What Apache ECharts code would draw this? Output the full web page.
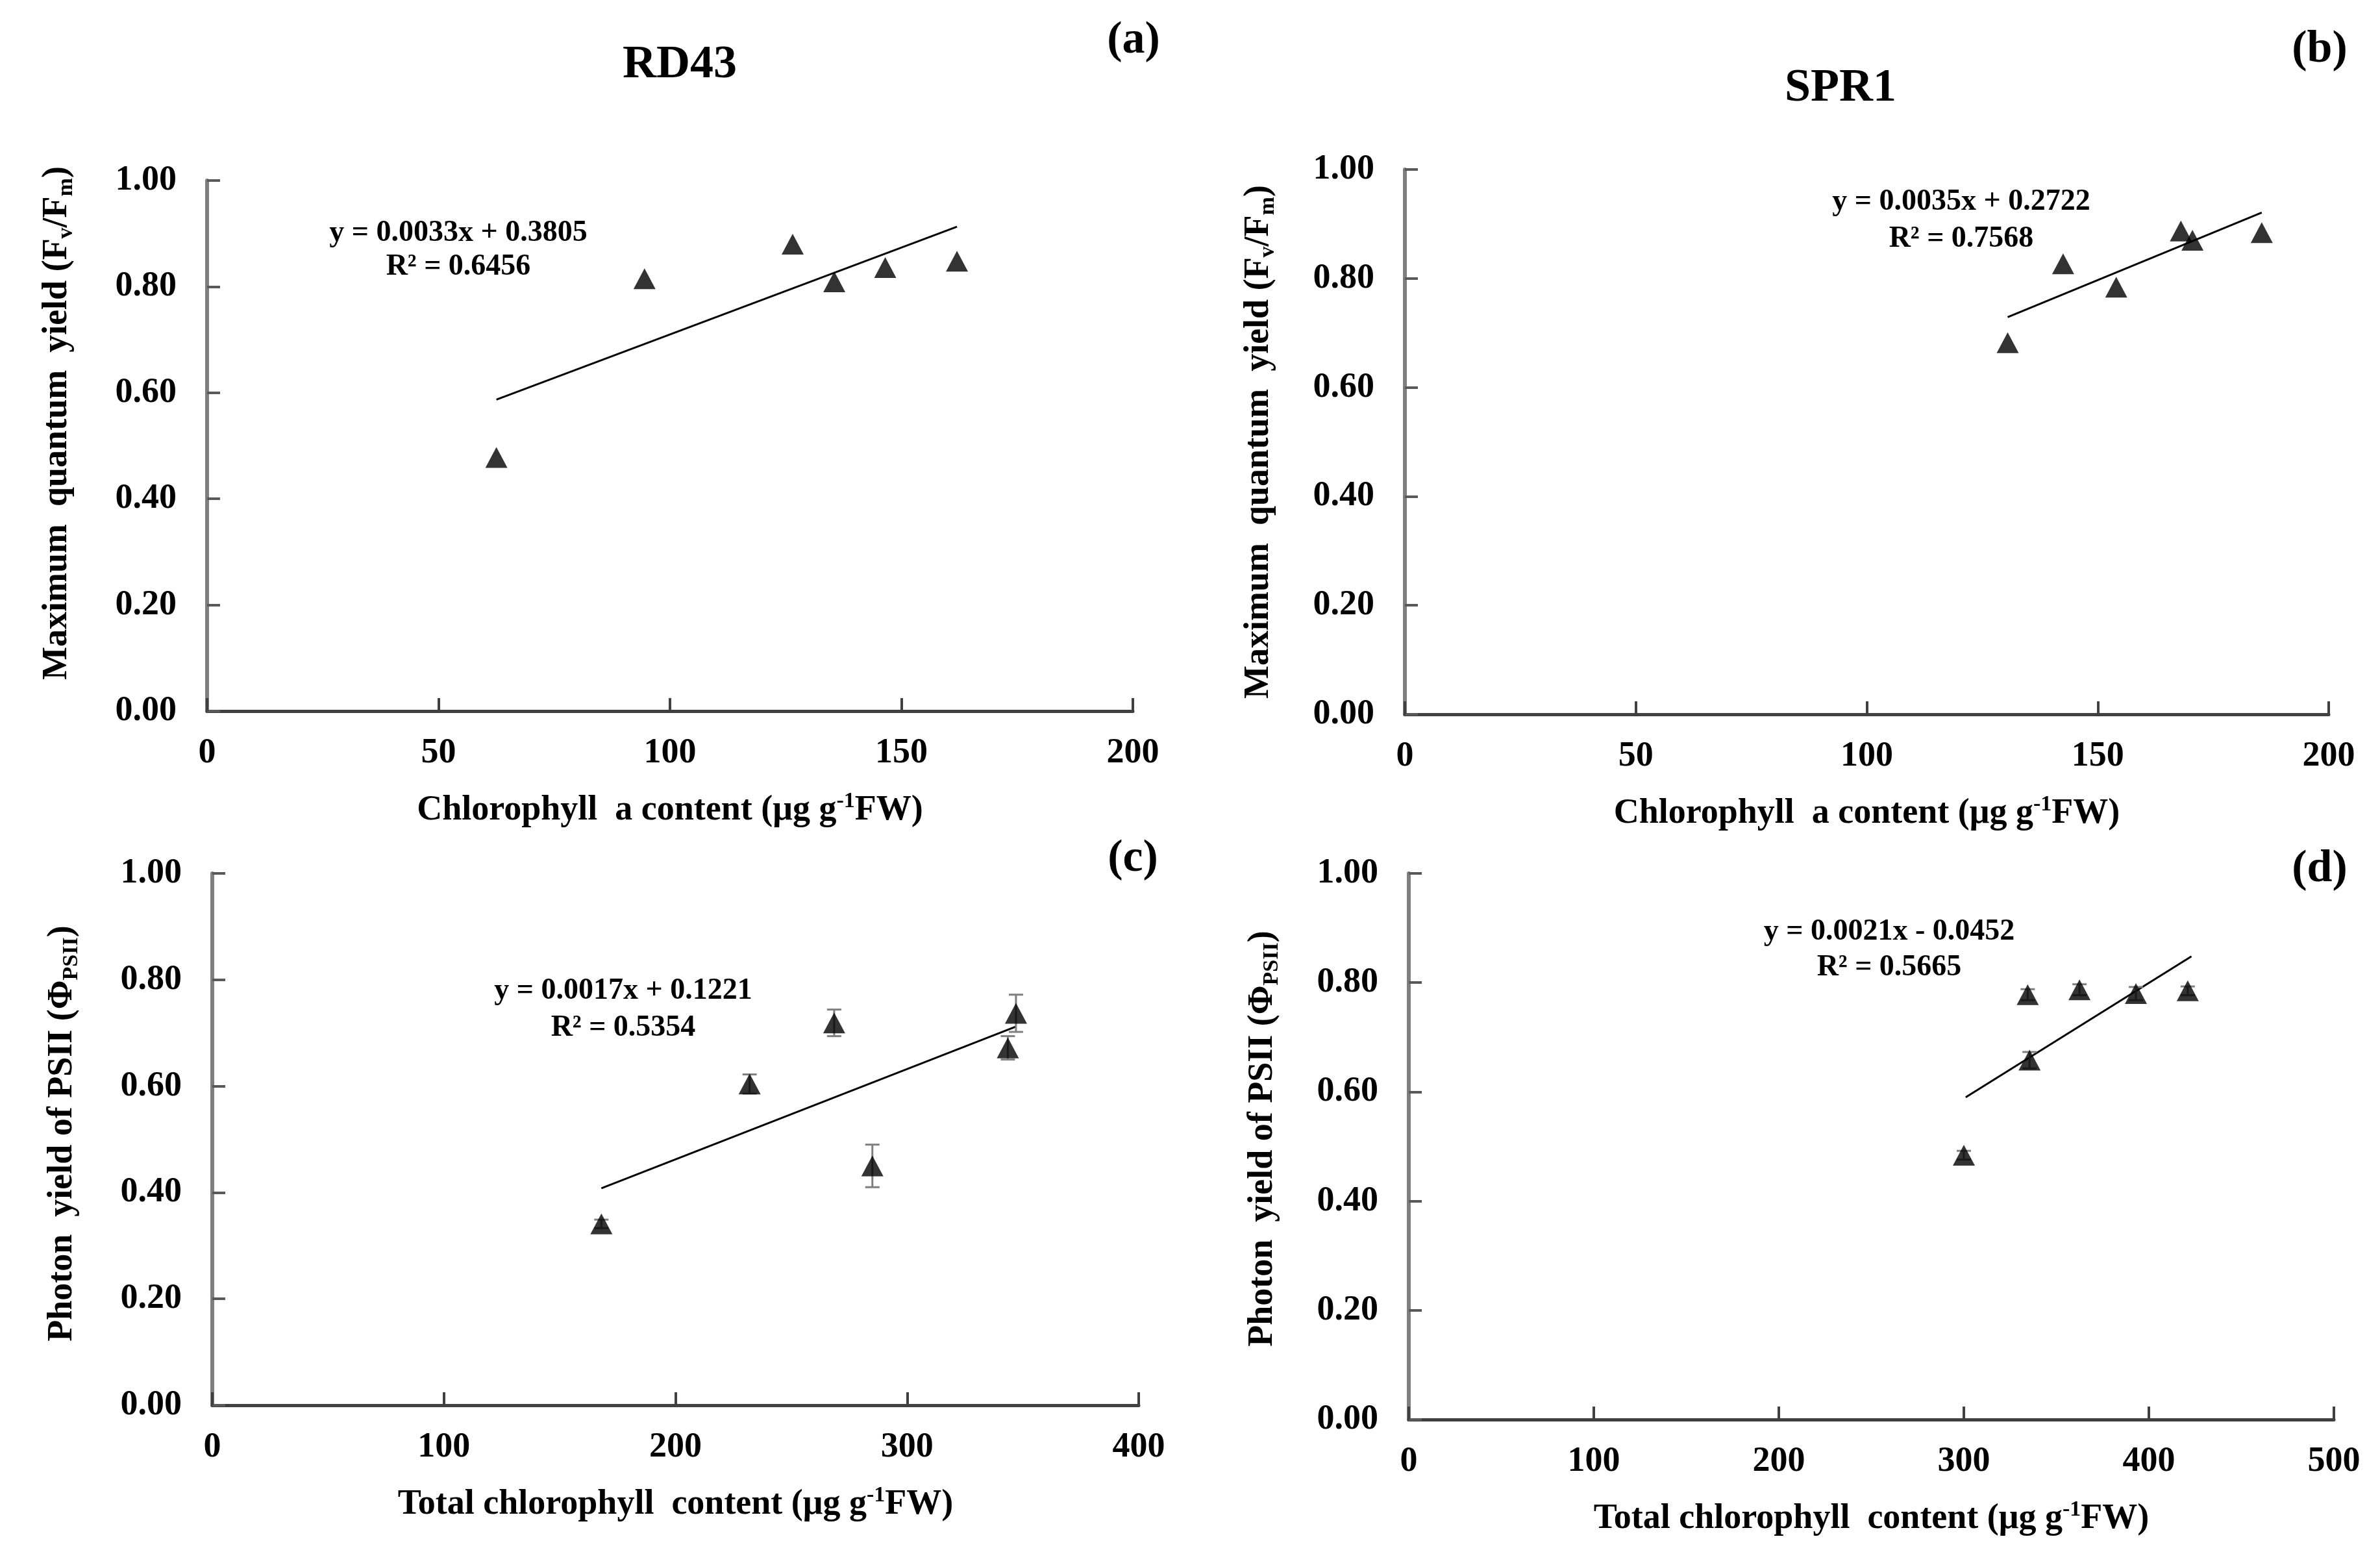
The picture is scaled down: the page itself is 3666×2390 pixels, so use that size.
<!DOCTYPE html>
<html>
<head>
<meta charset="utf-8">
<script src="https://cdn.jsdelivr.net/npm/echarts@6/dist/echarts.min.js"></script>
<style>
html,body{margin:0;padding:0;background:#fff;}
#chart{width:3666px;height:2390px;}
</style>
</head>
<body>
<div id="chart"></div>
<script>
// ---- data ----
// (a) RD43: chlorophyll a vs Fv/Fm
const chlA_RD43 = [62.5, 94.5, 126.5, 135.5, 146.5, 162];
const fvfm_RD43 = [0.478, 0.815, 0.880, 0.809, 0.836, 0.848];
const trendA_x = [62.5, 162];
const trendA_y = [0.587, 0.913];
// (b) SPR1: chlorophyll a vs Fv/Fm
const chlA_SPR1 = [130.5, 142.5, 154, 168, 170.5, 185.5];
const fvfm_SPR1 = [0.682, 0.827, 0.784, 0.887, 0.870, 0.884];
const trendB_x = [130.5, 185.5];
const trendB_y = [0.729, 0.921];
// (c) RD43: total chlorophyll vs PhiPSII
const totChl_RD43 = [168, 232, 268.5, 285, 343.5, 347];
const phi_RD43 = [0.341, 0.604, 0.719, 0.450, 0.672, 0.737];
const phiErr_RD43 = [0.008, 0.018, 0.025, 0.040, 0.022, 0.035];
const trendC_x = [168, 347];
const trendC_y = [0.408, 0.712];
// (d) SPR1: total chlorophyll vs PhiPSII
const totChl_SPR1 = [300, 334.5, 335.5, 362.5, 393, 421];
const phi_SPR1 = [0.484, 0.778, 0.658, 0.787, 0.780, 0.785];
const phiErr_SPR1 = [0.008, 0.010, 0.015, 0.010, 0.012, 0.008];
const trendD_x = [301, 423];
const trendD_y = [0.590, 0.848];

const equations = [
  ['y = 0.0033x + 0.3805', 'R² = 0.6456'],
  ['y = 0.0035x + 0.2722', 'R² = 0.7568'],
  ['y = 0.0017x + 0.1221', 'R² = 0.5354'],
  ['y = 0.0021x - 0.0452', 'R² = 0.5665']
];
const panelTitles = ['RD43', 'SPR1'];
const panelLetters = ['(a)', '(b)', '(c)', '(d)'];
const xMax = [200, 200, 400, 500];
const xInterval = [50, 50, 100, 100];

// ---- helpers ----
const FONT = "'Liberation Serif', 'Times New Roman', serif";
const zip = (xs, ys) => xs.map((x, i) => [x, ys[i]]);
const zip3 = (xs, ys, es) => xs.map((x, i) => [x, ys[i], es[i]]);

const grids = [
  {left: 319, top: 278, width: 1426, height: 817},
  {left: 2164, top: 261, width: 1423, height: 839},
  {left: 327, top: 1345, width: 1427, height: 819},
  {left: 2170, top: 1345, width: 1425, height: 841}
];

const richBase = {
  t: {fontFamily: FONT, fontWeight: 'bold', fontSize: 54, color: '#000', lineHeight: 62, verticalAlign: 'middle'},
  sub: {fontFamily: FONT, fontWeight: 'bold', fontSize: 34, color: '#000', lineHeight: 34, verticalAlign: 'bottom'},
  sup: {fontFamily: FONT, fontWeight: 'bold', fontSize: 34, color: '#000', lineHeight: 34, verticalAlign: 'top'}
};

const xNames = [
  '{t|Chlorophyll  a content (μg g}{sup|-1}{t|FW)}',
  '{t|Chlorophyll  a content (μg g}{sup|-1}{t|FW)}',
  '{t|Total chlorophyll  content (μg g}{sup|-1}{t|FW)}',
  '{t|Total chlorophyll  content (μg g}{sup|-1}{t|FW)}'
];
const yNames = [
  '{t|Maximum  quantum  yield (F}{sub|v}{t|/F}{sub|m}{t|)}',
  '{t|Maximum  quantum  yield (F}{sub|v}{t|/F}{sub|m}{t|)}',
  '{t|Photon  yield of PSII (Φ}{sub|PSII}{t|)}',
  '{t|Photon  yield of PSII (Φ}{sub|PSII}{t|)}'
];
const yNamePad = [[0, 0, 0, 70], [0, 0, 0, 0], [0, 0, 0, 18], [0, 0, 0, 24]];

const xAxes = grids.map((g, i) => ({
  type: 'value', gridIndex: i, min: 0, max: xMax[i], interval: xInterval[i],
  splitLine: {show: false},
  axisLine: {show: true, onZero: false, lineStyle: {color: '#404040', width: 5}},
  axisTick: {show: true, inside: true, length: 20, lineStyle: {color: '#404040', width: 4}},
  axisLabel: {margin: 38, fontFamily: FONT, fontWeight: 'bold', fontSize: 54, color: '#000'},
  name: xNames[i], nameLocation: 'middle', nameGap: 122,
  nameTextStyle: {rich: richBase}
}));
const yAxes = grids.map((g, i) => ({
  type: 'value', gridIndex: i, min: 0, max: 1, interval: 0.2,
  splitLine: {show: false},
  axisLine: {show: true, onZero: false, lineStyle: {color: '#7f7f7f', width: 6}},
  axisTick: {show: true, inside: true, length: 20, lineStyle: {color: '#595959', width: 4}},
  axisLabel: {margin: 47, fontFamily: FONT, fontWeight: 'bold', fontSize: 54, color: '#000',
    formatter: v => v.toFixed(2)},
  name: yNames[i], nameLocation: 'middle', nameGap: i % 2 === 0 ? 200 : 194, nameRotate: 90,
  nameTextStyle: {rich: richBase, padding: yNamePad[i]}
}));

const scatterData = [zip(chlA_RD43, fvfm_RD43), zip(chlA_SPR1, fvfm_SPR1), zip(totChl_RD43, phi_RD43), zip(totChl_SPR1, phi_SPR1)];
const trendData = [zip(trendA_x, trendA_y), zip(trendB_x, trendB_y), zip(trendC_x, trendC_y), zip(trendD_x, trendD_y)];
const errData = {2: zip3(totChl_RD43, phi_RD43, phiErr_RD43), 3: zip3(totChl_SPR1, phi_SPR1, phiErr_SPR1)};

const series = [];
for (let i = 0; i < 4; i++) {
  series.push({
    type: 'line', xAxisIndex: i, yAxisIndex: i, data: trendData[i],
    symbol: 'none', lineStyle: {color: '#000', width: 3}, z: 2, silent: true
  });
  if (errData[i]) {
    series.push({
      type: 'custom', xAxisIndex: i, yAxisIndex: i, data: errData[i], z: 3,
      encode: {x: 0, y: 1},
      renderItem: (params, api) => {
        const x = api.value(0), y = api.value(1), e = api.value(2);
        const top = api.coord([x, y + e]);
        const bot = api.coord([x, y - e]);
        const cap = 11;
        const st = {stroke: '#7f7f7f', lineWidth: 3};
        return {type: 'group', children: [
          {type: 'line', shape: {x1: top[0], y1: top[1], x2: bot[0], y2: bot[1]}, style: st},
          {type: 'line', shape: {x1: top[0] - cap, y1: top[1], x2: top[0] + cap, y2: top[1]}, style: st},
          {type: 'line', shape: {x1: bot[0] - cap, y1: bot[1], x2: bot[0] + cap, y2: bot[1]}, style: st}
        ]};
      }
    });
  }
  series.push({
    type: 'scatter', xAxisIndex: i, yAxisIndex: i, data: scatterData[i],
    symbol: 'triangle', symbolSize: [34, 32], itemStyle: {color: '#000'}, z: 4
  });
}

const txt = (x, y, text, size) => ({
  type: 'text', x: x, y: y, silent: true,
  style: {text: text, fontFamily: FONT, fontWeight: 'bold', fontSize: size, fill: '#000', align: 'center', verticalAlign: 'middle'}
});
const eqPos = [[706, 359, 411], [3021, 311, 368], [960, 1526, 1583], [2910, 1435, 1490]];
const letterPos = [[1746, 63], [3573, 77], [1745, 1323], [3573, 1339]];
const graphics = [
  txt(1047, 100, panelTitles[0], 72),
  txt(2835, 136, panelTitles[1], 72)
];
for (let i = 0; i < 4; i++) {
  graphics.push(txt(letterPos[i][0], letterPos[i][1], panelLetters[i], 70));
  graphics.push(txt(eqPos[i][0], eqPos[i][1], equations[i][0], 46));
  graphics.push(txt(eqPos[i][0], eqPos[i][2], equations[i][1], 46));
}

const chart = echarts.init(document.getElementById('chart'));
chart.setOption({
  animation: false,
  backgroundColor: '#fff',
  grid: grids,
  xAxis: xAxes,
  yAxis: yAxes,
  series: series,
  graphic: graphics
});
</script>
</body>
</html>
